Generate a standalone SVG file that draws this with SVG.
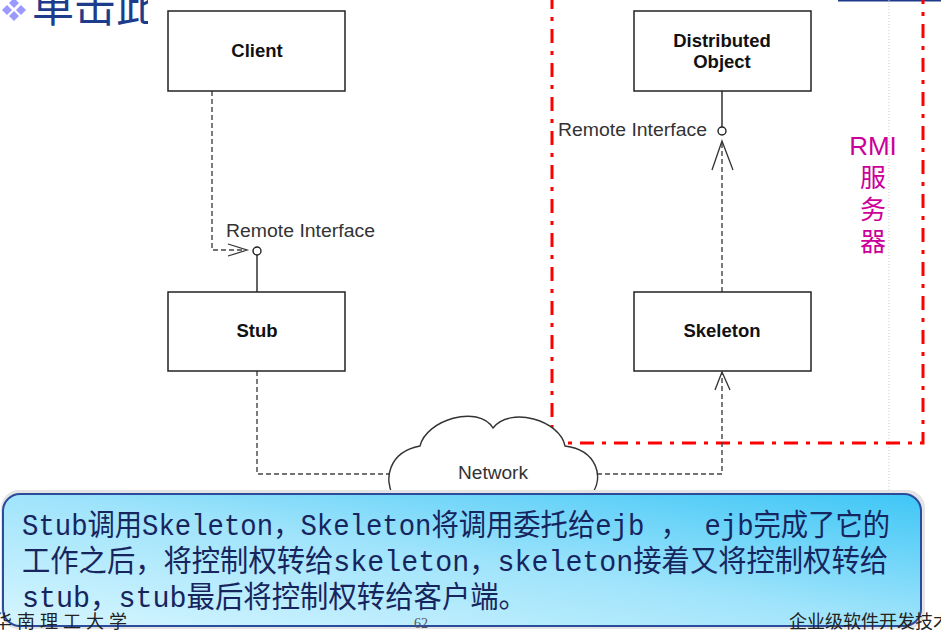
<svg xmlns="http://www.w3.org/2000/svg" width="941" height="631" viewBox="0 0 941 631">
<defs>
<style>
.box{fill:#fff;stroke:#222;stroke-width:1.5}
.lbl{font-family:"Liberation Sans",Arial,sans-serif;font-weight:bold;font-size:18.5px;fill:#111;text-anchor:middle}
.ri{font-family:"Liberation Sans",Arial,sans-serif;font-size:17.5px;fill:#333}
.dash{fill:none;stroke:#444;stroke-width:1.4;stroke-dasharray:5,3}
.solid{fill:none;stroke:#222;stroke-width:1.4}
.arr{fill:none;stroke:#333;stroke-width:1.3}
.rmi{font-family:"Liberation Sans","Noto Sans CJK SC",sans-serif;font-size:26px;fill:#CC0099;text-anchor:middle}
.call{font-family:"Liberation Mono","Noto Sans CJK SC",monospace;font-size:30px;fill:#17255e}
.foot{font-family:"Liberation Serif","Noto Sans CJK SC",serif;font-size:18px;fill:#222}
</style>
<linearGradient id="cg" x1="0" y1="1" x2="1" y2="0">
<stop offset="0" stop-color="#d6f5ff"/>
<stop offset="0.5" stop-color="#a0e4fb"/>
<stop offset="1" stop-color="#3ec6f6"/>
</linearGradient>
<clipPath id="tclip"><rect x="0" y="0" width="148" height="40"/></clipPath>
</defs>
<rect width="941" height="631" fill="#fff"/>
<g id="title">
<g fill="#9999ff">
<path d="M14,-2 L19,3 L14,8 L9,3 Z"/>
<path d="M7,5 L12,10 L7,15 L2,10 Z"/>
<path d="M21,5 L26,10 L21,15 L16,10 Z"/>
<path d="M14,11 L19,16 L14,21 L9,16 Z"/>
</g>
<text x="32" y="22" clip-path="url(#tclip)" font-family="Liberation Serif,'Noto Sans CJK SC',serif" font-size="42" fill="#1e3c8c">单击此</text>
</g>
<line x1="838" y1="0.5" x2="941" y2="0.5" stroke="#1f3a8a" stroke-width="2"/>
<line x1="889" y1="0" x2="889" y2="490" stroke="#c8c8c8" stroke-width="1" stroke-dasharray="1,2"/>
<g id="rmi-server">
<path d="M552,-5 L552,443 L923,443 L923,-5" fill="none" stroke="#ff0000" stroke-width="3" stroke-dasharray="14,8,4,8"/>
<text class="rmi" x="873" y="155">RMI</text>
<text class="rmi" x="873" y="187">服</text>
<text class="rmi" x="873" y="219">务</text>
<text class="rmi" x="873" y="251">器</text>
</g>
<g id="connectors">
<path class="dash" d="M212,91 L212,250 L245,250"/>
<path class="arr" d="M228,244 L247,250 L228,256"/>
<circle cx="257" cy="251" r="4" fill="#fff" stroke="#222" stroke-width="1.4"/>
<line class="solid" x1="257" y1="255" x2="257" y2="292"/>
<line class="solid" x1="722" y1="91" x2="722" y2="127"/>
<circle cx="722" cy="131" r="4" fill="#fff" stroke="#222" stroke-width="1.4"/>
<path class="dash" d="M722,292 L722,142"/>
<path class="arr" d="M712,170 L722,141 L733,170"/>
<path class="dash" d="M257,371 L257,474 L390,474"/>
<path class="dash" d="M597,474 L722,474 L722,374"/>
<path class="arr" d="M715,390 L722,372 L730,390"/>
</g>
<g id="client"><rect class="box" x="168" y="11" width="177" height="80"/><text class="lbl" x="257" y="57">Client</text></g>
<g id="distributed-object"><rect class="box" x="634" y="11" width="177" height="80"/><text class="lbl" x="722" y="47">Distributed</text><text class="lbl" x="722" y="68">Object</text></g>
<g id="stub"><rect class="box" x="168" y="292" width="177" height="79"/><text class="lbl" x="257" y="337">Stub</text></g>
<g id="skeleton"><rect class="box" x="634" y="292" width="177" height="79"/><text class="lbl" x="722" y="337">Skeleton</text></g>
<text class="ri" x="226" y="237" textLength="149" lengthAdjust="spacingAndGlyphs">Remote Interface</text>
<text class="ri" x="558" y="136" textLength="149" lengthAdjust="spacingAndGlyphs">Remote Interface</text>
<g id="network">
<path d="M393,495 C384,480 388,452 420,446 C426,420 478,404 493,428 C510,406 560,420 565,446 C597,450 605,478 591,495 Z" fill="#fff" stroke="#333" stroke-width="1.4"/>
<text x="458" y="479" font-family="Liberation Sans,Arial,sans-serif" font-size="18" fill="#333" textLength="70" lengthAdjust="spacingAndGlyphs">Network</text>
</g>
<g id="callout">
<rect x="1" y="490" width="924" height="139" rx="18" fill="#e4e4e4"/>
<rect x="3" y="494" width="918" height="132" rx="17" fill="url(#cg)" stroke="#2b4c9b" stroke-width="2"/>
<text class="call" x="22" y="535" textLength="868" lengthAdjust="spacingAndGlyphs">Stub调用Skeleton，Skeleton将调用委托给ejb ， ejb完成了它的</text>
<text class="call" x="22" y="571" textLength="866" lengthAdjust="spacingAndGlyphs">工作之后，将控制权转给skeleton，skeleton接着又将控制权转给</text>
<text class="call" x="22" y="607" textLength="505" lengthAdjust="spacingAndGlyphs">stub，stub最后将控制权转给客户端。</text>
</g>
<g id="footer">
<text class="foot" x="-6" y="628" letter-spacing="5">华南理工大学</text>
<text x="414" y="628" font-family="Liberation Serif,serif" font-size="14" fill="#555">62</text>
<text class="foot" x="789" y="628">企业级软件开发技术</text>
</g>
</svg>
